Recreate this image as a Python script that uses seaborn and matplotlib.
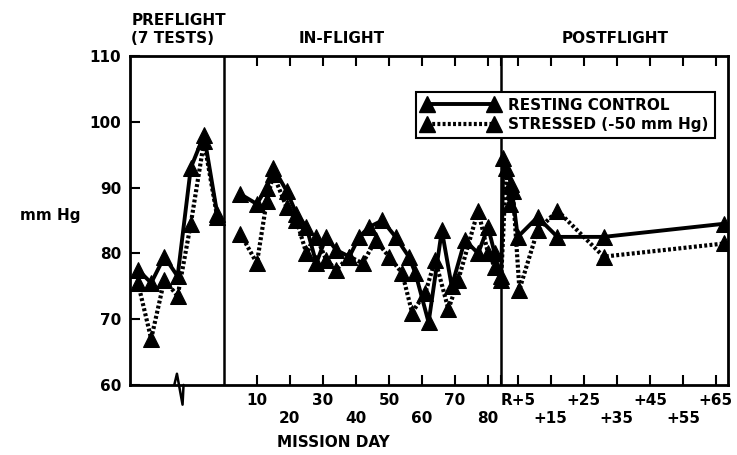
import matplotlib
matplotlib.use("Agg")
import matplotlib.pyplot as plt
from matplotlib.lines import Line2D
import pandas as pd
import seaborn as sns

# Preflight tests (plotted at days before launch), in-flight and postflight days
PRE_DAYS = [-26, -22, -18, -14, -10, -6, -2]
PRE_REST = [77.5, 75.5, 79.5, 76.5, 93, 98, 86]
PRE_STRESS = [75.5, 67, 76, 73.5, 84.5, 97, 85.5]

FLIGHT_DAYS_REST = [5, 10, 13, 15, 19, 22, 25, 28, 31, 34, 38, 41, 44, 48, 52, 56, 58, 62,
                    66, 69, 73, 77, 80, 82, 84,
                    84.6, 87, 89, 95, 101, 115, 151.5]
FLIGHT_REST = [89, 87.5, 90, 93, 89.5, 86, 84, 78.5, 82.5, 80.5, 79.5, 82.5, 84, 85, 82.5, 79.5, 77, 69.5,
               83.5, 75, 82, 80, 84, 80, 76,
               94.5, 90.5, 82.5, 85.5, 82.5, 82.5, 84.5]

FLIGHT_DAYS_STRESS = [5, 10, 13, 15, 19, 22, 25, 28, 31, 34, 38, 42, 46, 50, 54, 57, 61, 64,
                      68, 71, 77, 80, 82, 84,
                      85.5, 86.5, 87.5, 89.5, 95, 101, 115, 151.5]
FLIGHT_STRESS = [83, 78.5, 88, 92, 87, 85, 80, 82.5, 79, 77.5, 79.5, 78.5, 82, 79.5, 77, 71, 74, 79,
                 71.5, 76, 86.5, 80, 78, 76.5,
                 93, 87.5, 89.5, 74.5, 83.5, 86.5, 79.5, 81.5]

TICK_DAYS = [10, 20, 30, 40, 50, 60, 70, 80, 84, 89, 99, 109, 119, 129, 139, 149]
TICK_LABELS = ["10", "\n20", "30", "\n40", "50", "\n60", "70", "\n80", "",
               "R+5", "\n+15", "+25", "\n+35", "+45", "\n+55", "+65"]
Y_TICKS = [60, 70, 80, 90, 100, 110]

LAUNCH_DAY = 0
RECOVERY_DAY = 84
BREAK_DAY = -13.5


def build_frame():
    rows = []
    for d, v in zip(PRE_DAYS, PRE_REST):
        rows.append((d, v, "rest", "pre"))
    for d, v in zip(PRE_DAYS, PRE_STRESS):
        rows.append((d, v, "stress", "pre"))
    for d, v in zip(FLIGHT_DAYS_REST, FLIGHT_REST):
        rows.append((d, v, "rest", "flight"))
    for d, v in zip(FLIGHT_DAYS_STRESS, FLIGHT_STRESS):
        rows.append((d, v, "stress", "flight"))
    return pd.DataFrame(rows, columns=["day", "mmhg", "series", "phase"])


def main():
    sns.set_style("white")
    plt.rcParams["font.family"] = ["DejaVu Sans"]
    plt.rcParams["font.weight"] = "bold"
    plt.rcParams["text.color"] = "black"
    plt.rcParams["xtick.color"] = "black"
    plt.rcParams["ytick.color"] = "black"
    plt.rcParams["axes.labelcolor"] = "black"

    df = build_frame()

    fig = plt.figure(figsize=(7.37, 4.55), dpi=100)
    ax = fig.add_axes([0.176, 0.154, 0.812, 0.723])

    styles = {"rest": dict(linestyle="-", lw=2.8),
              "stress": dict(linestyle=(0, (0.7, 0.55)), lw=3.0)}
    for (series, phase), sub in df.groupby(["series", "phase"]):
        sns.lineplot(data=sub, x="day", y="mmhg", ax=ax, sort=False, estimator=None,
                     color="black", marker="^", markersize=11, markeredgecolor="black",
                     legend=False, **styles[series])

    # phase dividers
    ax.axvline(LAUNCH_DAY, color="black", lw=1.8)
    ax.axvline(RECOVERY_DAY, color="black", lw=1.8)

    ax.set_xlim(-28.5, 152.7)
    ax.set_ylim(60, 110)
    ax.set_yticks(Y_TICKS)
    ax.set_xticks(TICK_DAYS)
    ax.set_xticklabels(TICK_LABELS, fontsize=11, fontweight="bold", va="top", color="black")
    ax.set_yticklabels([str(t) for t in Y_TICKS], fontsize=11, fontweight="bold", color="black")
    ax.tick_params(axis="x", direction="in", length=7, width=1.5, top=True, bottom=True, pad=6)
    ax.tick_params(axis="y", direction="in", length=7, width=1.5, left=True, pad=6)
    ax.set_xlabel("")
    ax.set_ylabel("")
    for sp in ax.spines.values():
        sp.set_linewidth(2.0)
        sp.set_color("black")

    # axis break mark on the preflight part of the x axis
    ax.plot([BREAK_DAY - 1.5, BREAK_DAY - 0.7, BREAK_DAY + 1.0, BREAK_DAY + 1.3],
            [60, 61.7, 57.0, 60], color="black", lw=1.8, clip_on=False)

    # legend
    h_rest = Line2D([], [], color="black", marker="^", markersize=11, lw=2.8)
    h_stress = Line2D([], [], color="black", marker="^", markersize=11, lw=3.0,
                      linestyle=(0, (0.7, 0.55)))
    leg = ax.legend([h_rest, h_stress], ["RESTING CONTROL", "STRESSED (-50 mm Hg)"],
                    loc="upper right", bbox_to_anchor=(0.99, 0.915), numpoints=2,
                    handlelength=5, fancybox=False, framealpha=1, edgecolor="black",
                    prop={"size": 11, "weight": "bold"}, borderpad=0.4, labelspacing=0.3,
                    handletextpad=0.6)
    leg.get_frame().set_linewidth(1.5)
    for t in leg.get_texts():
        t.set_color("black")

    fig.text(0.027, 0.527, "mm Hg", fontsize=11, fontweight="bold", va="center", ha="left")
    fig.text(0.452, 0.018, "MISSION DAY", fontsize=11, fontweight="bold", ha="center")
    fig.text(0.178, 0.955, "PREFLIGHT", fontsize=11, fontweight="bold", ha="left", va="center")
    fig.text(0.178, 0.915, "(7 TESTS)", fontsize=11, fontweight="bold", ha="left", va="center")
    fig.text(0.463, 0.915, "IN-FLIGHT", fontsize=11, fontweight="bold", ha="center", va="center")
    fig.text(0.835, 0.915, "POSTFLIGHT", fontsize=11, fontweight="bold", ha="center", va="center")

    fig.savefig("out.png", dpi=100)


if __name__ == "__main__":
    main()
